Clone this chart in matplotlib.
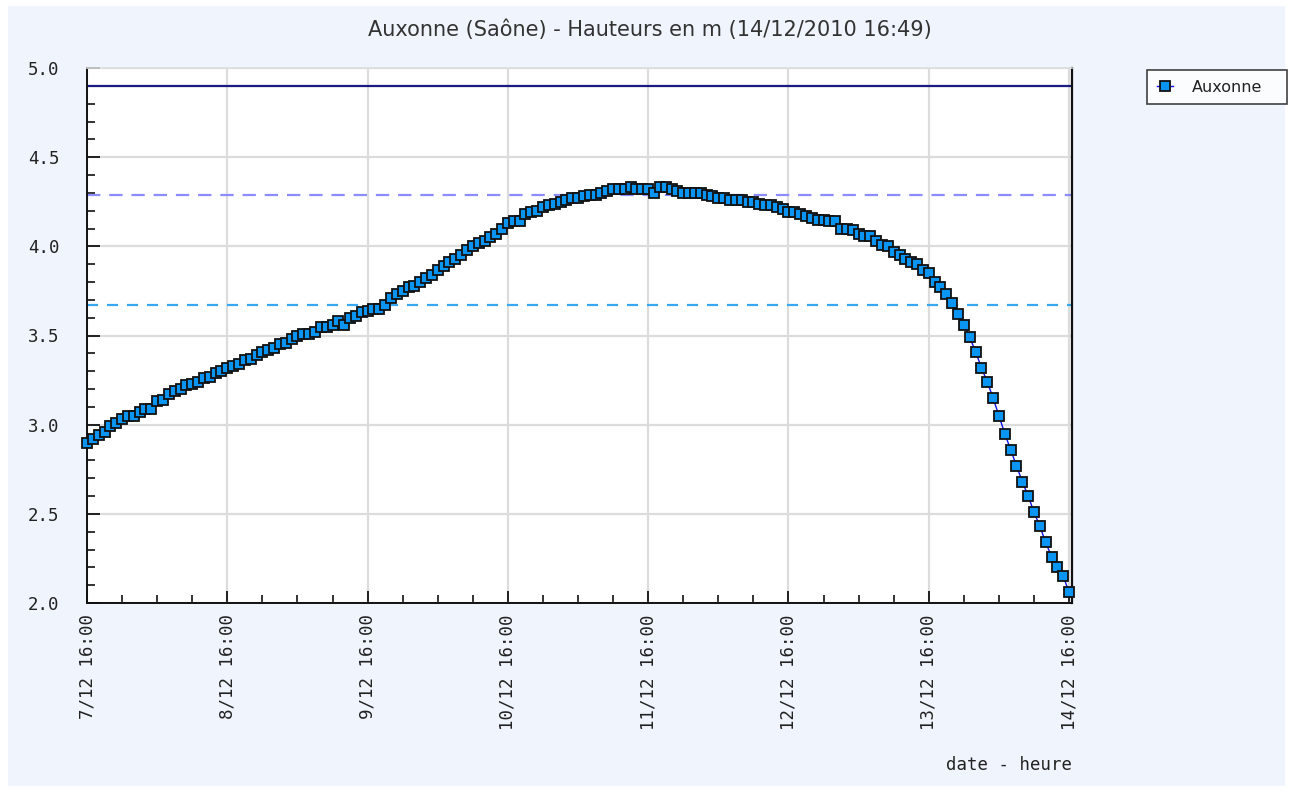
import matplotlib
matplotlib.use("Agg")
import matplotlib.pyplot as plt
import matplotlib.dates as mdates
from matplotlib.patches import Rectangle
import pandas as pd

title = "Auxonne (Saône) - Hauteurs en m (14/12/2010 16:49)"
series_name = "Auxonne"
x_label = "date - heure"
start_time = "2010-12-07 16:00"

# hourly water heights (m), 7/12 16:00 -> 14/12 16:00
heights = [
    2.90, 2.92, 2.94, 2.96, 2.99, 3.01, 3.03, 3.05, 3.05, 3.07, 3.09, 3.09,
    3.13, 3.14, 3.17, 3.19, 3.20, 3.22, 3.23, 3.24, 3.26, 3.27, 3.29, 3.30,
    3.32, 3.33, 3.34, 3.36, 3.37, 3.39, 3.41, 3.42, 3.43, 3.45, 3.46, 3.48,
    3.50, 3.51, 3.51, 3.52, 3.55, 3.55, 3.56, 3.58, 3.56, 3.60, 3.61, 3.63,
    3.64, 3.65, 3.65, 3.67, 3.71, 3.73, 3.75, 3.77, 3.78, 3.80, 3.82, 3.84,
    3.87, 3.89, 3.91, 3.93, 3.95, 3.98, 4.00, 4.02, 4.03, 4.05, 4.07, 4.10,
    4.13, 4.14, 4.14, 4.18, 4.19, 4.20, 4.22, 4.23, 4.24, 4.25, 4.26, 4.27,
    4.27, 4.28, 4.29, 4.29, 4.30, 4.31, 4.32, 4.32, 4.32, 4.33, 4.32, 4.32,
    4.32, 4.30, 4.33, 4.33, 4.32, 4.31, 4.30, 4.30, 4.30, 4.30, 4.29, 4.28,
    4.27, 4.27, 4.26, 4.26, 4.26, 4.25, 4.25, 4.24, 4.23, 4.23, 4.22, 4.21,
    4.19, 4.19, 4.18, 4.17, 4.16, 4.15, 4.15, 4.14, 4.14, 4.10, 4.10, 4.09,
    4.07, 4.06, 4.06, 4.03, 4.01, 4.00, 3.97, 3.95, 3.93, 3.91, 3.90, 3.87,
    3.85, 3.80, 3.77, 3.73, 3.68, 3.62, 3.56, 3.49, 3.41, 3.32, 3.24, 3.15,
    3.05, 2.95, 2.86, 2.77, 2.68, 2.60, 2.51, 2.43, 2.34, 2.26, 2.20, 2.15,
    2.06,
]

# reference levels (m)
ref_levels = [4.90, 4.29, 3.67]
ref_colors = ["#1a1a80", "#8c8cff", "#3aa8f0"]
ref_styles = ["-", (0, (6, 4)), (0, (5, 4))]

times = pd.date_range(start_time, periods=len(heights), freq="h")

fig = plt.figure(figsize=(12.9, 7.93), dpi=100)
fig.patch.set_facecolor("white")
fig.patches.append(Rectangle((8 / 1290, 7 / 793), 1277 / 1290, 780 / 793,
                             transform=fig.transFigure, facecolor="#eff4fd",
                             edgecolor="none", zorder=-10))

ax = fig.add_axes([87 / 1290, 1 - 603 / 793, 985 / 1290, 535 / 793])
ax.set_facecolor("white")

for lvl, c, ls in zip(ref_levels, ref_colors, ref_styles):
    ax.axhline(lvl, color=c, linestyle=ls, linewidth=1.6, zorder=2)

ax.plot(times, heights, color="#1010ee", linewidth=1.0, marker="s",
        markersize=6.5, markerfacecolor="#0b95f2", markeredgecolor="#111111",
        markeredgewidth=1.3, label=series_name, zorder=3, clip_on=False)

x0 = pd.Timestamp(start_time)
ax.set_xlim(x0, x0 + pd.Timedelta(hours=168.5))
ax.set_ylim(2.0, 5.0)

ax.xaxis.set_major_locator(mdates.HourLocator(byhour=[16]))
ax.xaxis.set_major_formatter(mdates.DateFormatter("%-d/%m %H:%M"))
ax.xaxis.set_minor_locator(mdates.HourLocator(byhour=[4, 10, 22]))
ax.set_yticks([2.0, 2.5, 3.0, 3.5, 4.0, 4.5, 5.0])
ax.set_yticks([2.0 + 0.1 * k for k in range(31)], minor=True)
ax.yaxis.set_major_formatter(matplotlib.ticker.FormatStrFormatter("%.1f"))

ax.grid(True, which="major", color="#dcdcdc", linewidth=1.6, zorder=0)
ax.set_axisbelow(True)

ax.tick_params(axis="both", which="both", direction="in", color="#111111")
ax.tick_params(axis="both", which="major", length=9, width=1.3)
ax.tick_params(axis="both", which="minor", length=6, width=1.2)
ax.tick_params(axis="y", labelsize=12.5, pad=20)
ax.tick_params(axis="x", labelsize=12.5, pad=8)
for lab in ax.get_xticklabels() + ax.get_yticklabels():
    lab.set_family("DejaVu Sans Mono")
    lab.set_color("#222222")
for lab in ax.get_xticklabels():
    lab.set_rotation(90)

ax.spines["top"].set_color("#dcdcdc")
ax.spines["top"].set_linewidth(1.2)
ax.spines["right"].set_color("#111111")
ax.spines["right"].set_linewidth(1.6)
ax.spines["left"].set_color("#111111")
ax.spines["left"].set_linewidth(1.4)
ax.spines["bottom"].set_color("#111111")
ax.spines["bottom"].set_linewidth(1.4)

fig.text(650 / 1290, 1 - 30 / 793, title, ha="center", va="center",
         fontsize=15, color="#333333", family="DejaVu Sans")
fig.text(1072 / 1290, 1 - 765 / 793, x_label, ha="right", va="center",
         fontsize=12.5, color="#222222", family="DejaVu Sans Mono")

leg = fig.legend(loc="upper left",
                 bbox_to_anchor=(1147 / 1290, 1 - 103 / 793, 140 / 1290, 33 / 793),
                 mode="expand", frameon=True, fancybox=False, fontsize=11.5,
                 handlelength=1.0, borderpad=0.6, handletextpad=1.2,
                 borderaxespad=0)
leg.get_frame().set_edgecolor("#111111")
leg.get_frame().set_linewidth(1.2)
leg.get_frame().set_facecolor("white")
for t in leg.get_texts():
    t.set_color("#222222")

fig.savefig("out.png", dpi=100, facecolor=fig.get_facecolor())
